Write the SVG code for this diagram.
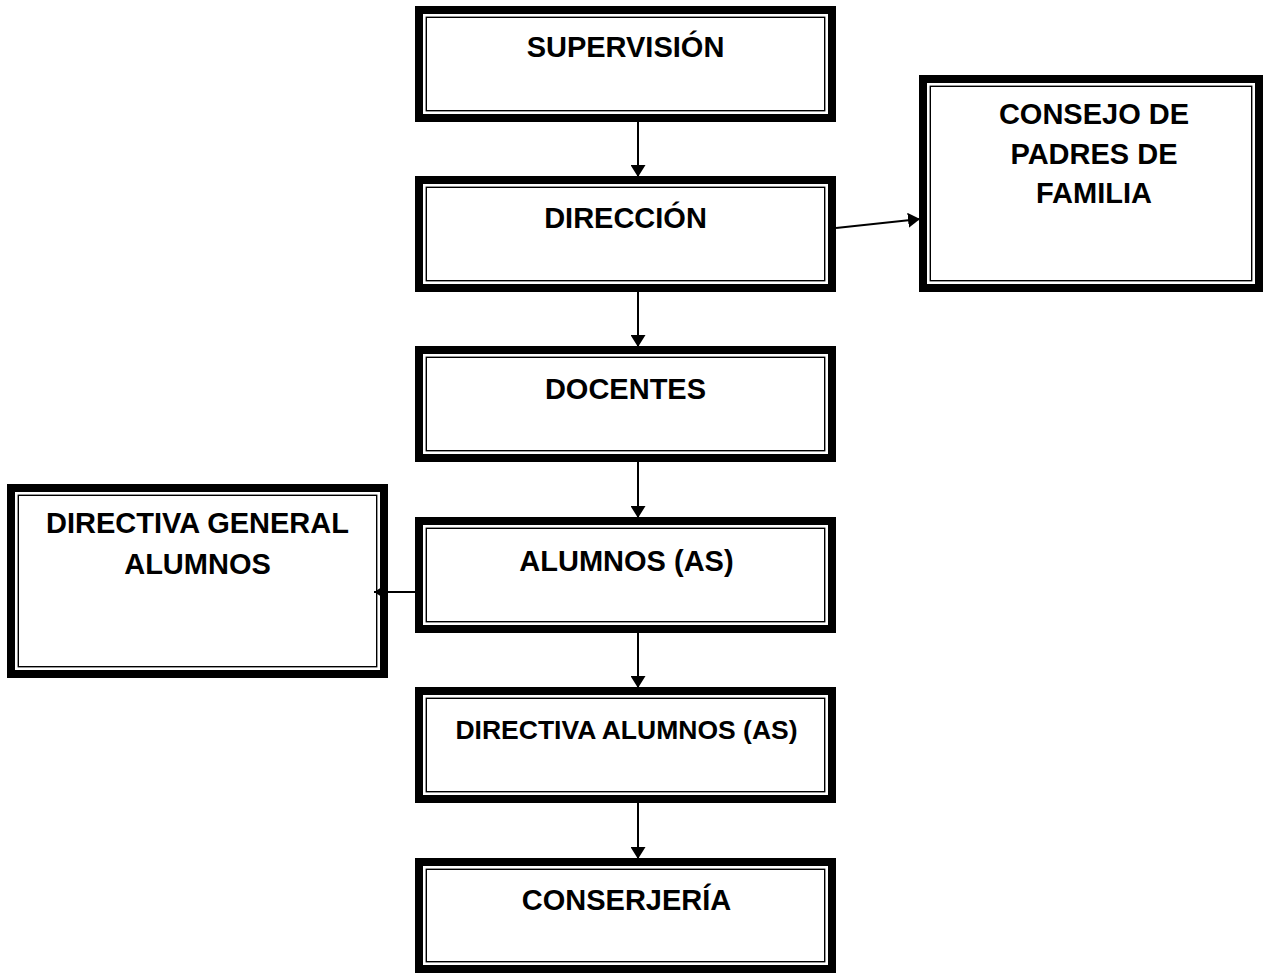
<svg xmlns="http://www.w3.org/2000/svg" width="1264" height="973" viewBox="0 0 1264 973">
<style>
.outer{fill:#fff;stroke:#000;stroke-width:8}
.inner{fill:none;stroke:#000;stroke-width:1.4}
.t{font-family:"Liberation Sans",Arial,sans-serif;font-weight:bold;font-size:29px;fill:#000;text-anchor:middle}
.s{font-size:26.5px}
.c{stroke:#000;stroke-width:2;fill:none;marker-end:url(#ah)}
</style>
<defs>
<marker id="ah" markerUnits="userSpaceOnUse" markerWidth="13" markerHeight="15" refX="12" refY="7.5" orient="auto">
<path d="M0,0 L12,7.5 L0,15 z" fill="#000"/>
</marker>
</defs>
<rect width="1264" height="973" fill="#fff"/>
<g id="supervision">
<rect class="outer" x="419" y="10" width="413" height="108"/>
<rect class="inner" x="426.3" y="17.3" width="398.4" height="93.4"/>
<text class="t" x="625.5" y="57">SUPERVISIÓN</text>
</g>
<g id="direccion">
<rect class="outer" x="419" y="180" width="413" height="108"/>
<rect class="inner" x="426.3" y="187.3" width="398.4" height="93.4"/>
<text class="t" x="625.5" y="228">DIRECCIÓN</text>
</g>
<g id="docentes">
<rect class="outer" x="419" y="350" width="413" height="108"/>
<rect class="inner" x="426.3" y="357.3" width="398.4" height="93.4"/>
<text class="t" x="625.5" y="399">DOCENTES</text>
</g>
<g id="alumnos">
<rect class="outer" x="419" y="521" width="413" height="108"/>
<rect class="inner" x="426.3" y="528.3" width="398.4" height="93.4"/>
<text class="t" x="626.5" y="571">ALUMNOS (AS)</text>
</g>
<g id="directiva-alumnos">
<rect class="outer" x="419" y="691" width="413" height="108"/>
<rect class="inner" x="426.3" y="698.3" width="398.4" height="93.4"/>
<text class="t s" x="626.5" y="739">DIRECTIVA ALUMNOS (AS)</text>
</g>
<g id="conserjeria">
<rect class="outer" x="419" y="862" width="413" height="107"/>
<rect class="inner" x="426.3" y="869.3" width="398.4" height="92.4"/>
<text class="t" x="626.5" y="910">CONSERJERÍA</text>
</g>
<g id="consejo">
<rect class="outer" x="923" y="79" width="336" height="209"/>
<rect class="inner" x="930.3" y="86.3" width="321.4" height="194.4"/>
<text class="t" x="1094" y="124">CONSEJO DE</text>
<text class="t" x="1094" y="164">PADRES DE</text>
<text class="t" x="1094" y="203">FAMILIA</text>
</g>
<g id="directiva-general">
<rect class="outer" x="11" y="488" width="373" height="186"/>
<rect class="inner" x="18.3" y="495.3" width="358.4" height="171.4"/>
<text class="t" x="197.5" y="533">DIRECTIVA GENERAL</text>
<text class="t" x="197.5" y="574">ALUMNOS</text>
</g>
<g id="connectors">
<line class="c" x1="638" y1="122" x2="638" y2="177"/>
<line class="c" x1="638" y1="292" x2="638" y2="347"/>
<line class="c" x1="638" y1="462" x2="638" y2="518"/>
<line class="c" x1="638" y1="633" x2="638" y2="688"/>
<line class="c" x1="638" y1="803" x2="638" y2="859"/>
<line class="c" x1="836" y1="228" x2="920" y2="219"/>
<line class="c" x1="415" y1="592" x2="374" y2="592"/>
</g>
</svg>
